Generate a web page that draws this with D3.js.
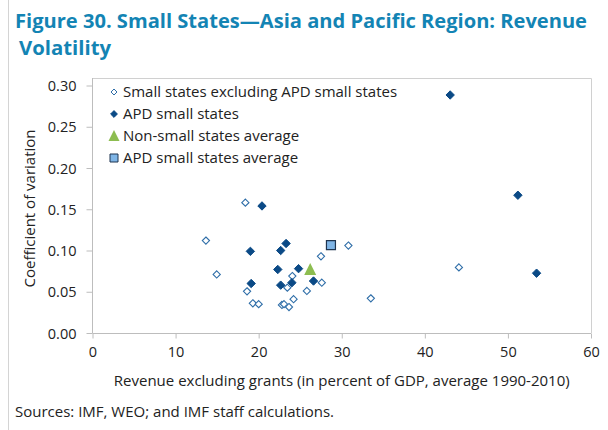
<!DOCTYPE html>
<html>
<head>
<meta charset="utf-8">
<script src="https://cdn.jsdelivr.net/npm/d3@7"></script>
<style>
  body { margin: 0; background: #fff; }
  text { font-family: "Open Sans", sans-serif; fill: #222; }
</style>
</head>
<body>
<div></div>
<script>
'use strict';

// Small states excluding APD small states (open diamonds): [revenue, coefficient]
var otherSmall = [
  [18.4, 0.158], [13.65, 0.112], [14.95, 0.071], [18.6, 0.0505],
  [19.3, 0.036], [20.0, 0.035], [30.8, 0.106], [27.5, 0.093],
  [24.05, 0.069], [27.6, 0.061], [23.45, 0.055], [25.8, 0.051],
  [24.2, 0.041], [22.8, 0.034], [23.05, 0.035], [23.65, 0.0315],
  [33.5, 0.042], [44.1, 0.0795]
];

// APD small states (filled diamonds)
var apdSmall = [
  [20.4, 0.154], [19.0, 0.099], [19.1, 0.060], [23.3, 0.1085],
  [22.65, 0.100], [22.3, 0.077], [24.8, 0.078], [26.6, 0.063],
  [24.0, 0.061], [22.65, 0.058], [43.05, 0.2885], [51.2, 0.167],
  [53.45, 0.0725]
];

var nonSmallAvg = [[26.2, 0.077]];
var apdAvg = [[28.7, 0.1065]];

var xTicks = [0, 10, 20, 30, 40, 50, 60];
var yTicks = [0, 0.05, 0.10, 0.15, 0.20, 0.25, 0.30];

var legendLabels = [
  "Small states excluding APD small states",
  "APD small states",
  "Non-small states average",
  "APD small states average"
];

var svgWidth = 608;
var svgHeight = 430;
var plot = {left: 92.5, right: 591, top: 78, bottom: 333};

var svg = d3.select("body").select("div")
  .append("svg")
    .attr("width", svgWidth)
    .attr("height", svgHeight);

// outer figure rule on the left
svg.append("line")
  .attr("x1", 8.5).attr("x2", 8.5)
  .attr("y1", 0).attr("y2", svgHeight)
  .attr("stroke", "#d4d4d4");

// title
var titleColor = "#1384b4";
svg.append("text")
  .attr("x", 15).attr("y", 28)
  .attr("textLength", 572)
  .attr("lengthAdjust", "spacingAndGlyphs")
  .style("font-size", "20px").style("font-weight", "bold").style("fill", titleColor)
  .text("Figure 30. Small States\u2014Asia and Pacific Region: Revenue");
svg.append("text")
  .attr("x", 19).attr("y", 55)
  .attr("textLength", 92)
  .attr("lengthAdjust", "spacingAndGlyphs")
  .style("font-size", "20px").style("font-weight", "bold").style("fill", titleColor)
  .text("Volatility");

// scales
var xScale = d3.scaleLinear()
  .domain([0, 60])
  .range([plot.left, plot.right]);

var yScale = d3.scaleLinear()
  .domain([0, 0.30])
  .range([plot.bottom, 85.5]);

// plot frame (top and right)
svg.append("path")
  .attr("d", "M" + plot.left + "," + (plot.top + 0.5) + "H" + (plot.right + 0.5) + "V" + plot.bottom)
  .attr("fill", "none")
  .attr("stroke", "#d0d0d0");

// axes
var xAxis = svg.append("g")
  .attr("transform", "translate(0," + (plot.bottom + 0.5) + ")")
  .call(d3.axisBottom(xScale).tickValues(xTicks).tickSize(5).tickPadding(8).tickFormat(d3.format("d")));

var yAxis = svg.append("g")
  .attr("transform", "translate(" + plot.left + ",0)")
  .call(d3.axisLeft(yScale).tickValues(yTicks).tickSize(6).tickPadding(10).tickFormat(d3.format(".2f")));

[xAxis, yAxis].forEach(function(a) {
  a.select(".domain").attr("stroke", "#bdbdbd");
  a.selectAll(".tick line").attr("stroke", "#bdbdbd");
  a.selectAll(".tick text")
    .style("font-size", "14.5px")
    .style("font-family", "'Open Sans', sans-serif")
    .attr("fill", "#222");
});
xAxis.select(".domain").attr("d", "M" + plot.left + ",0H" + plot.right);
yAxis.select(".domain").attr("d", "M0," + plot.bottom + "V" + plot.top);
yAxis.selectAll(".tick text").attr("dy", "0.35em");

// axis titles
svg.append("text")
  .attr("x", (plot.left + plot.right) / 2)
  .attr("y", 386)
  .attr("text-anchor", "middle")
  .style("font-size", "15px")
  .text("Revenue excluding grants (in percent of GDP, average 1990-2010)");

svg.append("text")
  .attr("transform", "translate(35," + ((plot.top + plot.bottom) / 2 + 3) + ") rotate(-90)")
  .attr("text-anchor", "middle")
  .style("font-size", "15px")
  .text("Coefficient of variation");

// source note
svg.append("text")
  .attr("x", 15).attr("y", 417)
  .style("font-size", "15px")
  .text("Sources: IMF, WEO; and IMF staff calculations.");

// markers
var diamond = function(r) {
  return "M0," + (-r) + "L" + r + ",0L0," + r + "L" + (-r) + ",0Z";
};
var triangle = function(s) {
  var h = s * 0.9;
  return "M0," + (-h / 2 - 1) + "L" + (s / 2) + "," + (h / 2) + "L" + (-s / 2) + "," + (h / 2) + "Z";
};

var styles = [
  {path: diamond(3.6), fill: "#fff", stroke: "#2f6ea8", width: 1.1},
  {path: diamond(4.2), fill: "#0b4a86", stroke: "#0b4a86", width: 1},
  {path: triangle(12), fill: "#8dbd50", stroke: "none", width: 0},
  {path: "M-4.5,-4.5H4.5V4.5H-4.5Z", fill: "#7fb5e6", stroke: "#1f3550", width: 1.2}
];

var series = [otherSmall, apdSmall, nonSmallAvg, apdAvg];

series.forEach(function(data, i) {
  svg.append("g").selectAll("path")
    .data(data)
    .enter().append("path")
      .attr("transform", function(d) { return "translate(" + xScale(d[0]) + "," + yScale(d[1]) + ")"; })
      .attr("d", styles[i].path)
      .attr("fill", styles[i].fill)
      .attr("stroke", styles[i].stroke)
      .attr("stroke-width", styles[i].width);
});

// legend
var legendMarks = [
  {path: diamond(3), fill: "#fff", stroke: "#2f6ea8", width: 1},
  {path: diamond(3.4), fill: "#0b4a86", stroke: "#0b4a86", width: 1},
  {path: triangle(11), fill: "#8dbd50", stroke: "none", width: 0},
  {path: "M-4,-4H4V4H-4Z", fill: "#7fb5e6", stroke: "#1f3550", width: 1}
];

var legend = svg.append("g");
legend.selectAll("path")
  .data(legendMarks)
  .enter().append("path")
    .attr("transform", function(d, i) { return "translate(114," + (92 + i * 22) + ")"; })
    .attr("d", function(d) { return d.path; })
    .attr("fill", function(d) { return d.fill; })
    .attr("stroke", function(d) { return d.stroke; })
    .attr("stroke-width", function(d) { return d.width; });

legend.selectAll("text")
  .data(legendLabels)
  .enter().append("text")
    .attr("x", 123)
    .attr("y", function(d, i) { return 92 + i * 22; })
    .attr("dy", "0.35em")
    .style("font-size", "15px")
    .text(function(d) { return d; });
</script>
</body>
</html>
